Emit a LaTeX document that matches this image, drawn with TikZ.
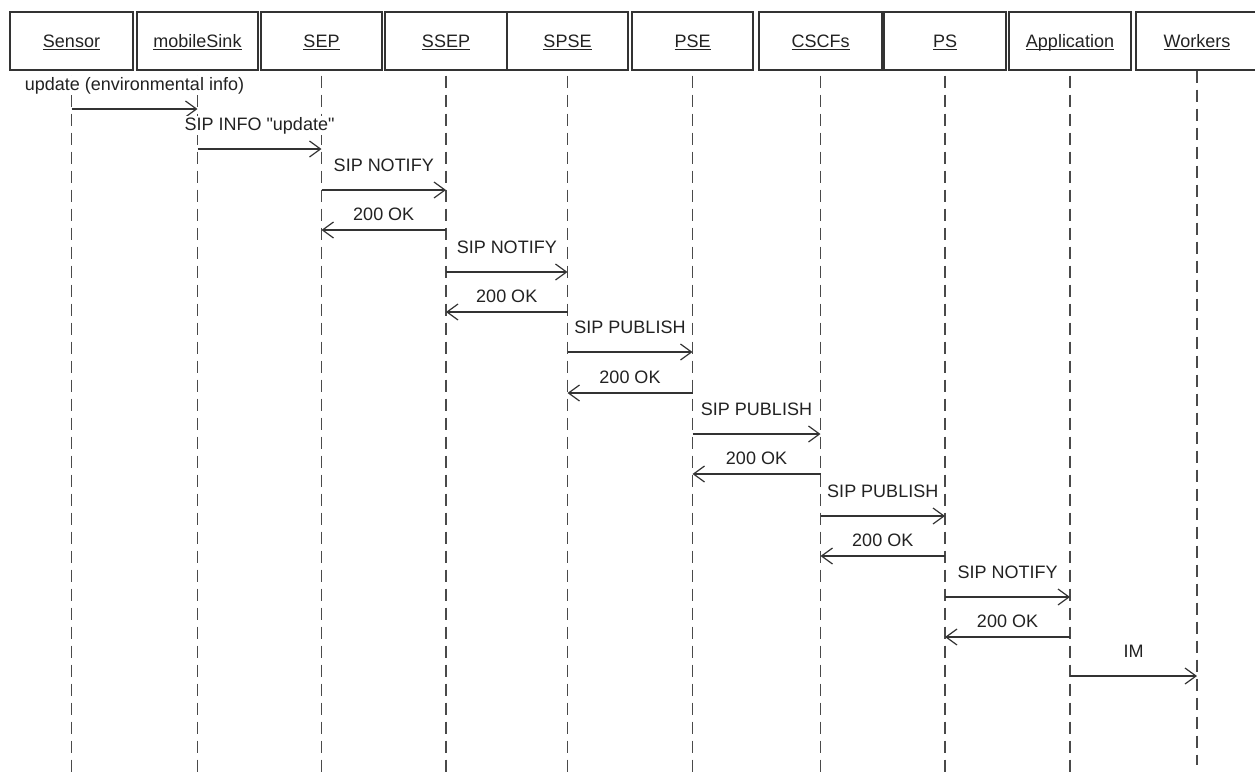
\documentclass[tikz,border=0pt]{standalone}
\usepackage{fontspec}
\setmainfont{Liberation Sans}[Ligatures=TeXOff]
\usetikzlibrary{arrows.meta}
\definecolor{ln}{HTML}{333333}
\definecolor{ll}{HTML}{4A4A4A}
\definecolor{tx}{HTML}{222222}
\newsavebox\ulbox
\newcommand\uln[1]{\sbox\ulbox{#1}\rlap{\rule[-2.8pt]{\wd\ulbox}{1.1pt}}\usebox\ulbox}
\begin{document}
\begin{tikzpicture}[x=1pt,y=-1pt,
  font=\fontsize{18}{21}\selectfont, text=tx,
  actor/.style={draw=ln, line width=1.3pt, minimum height=58pt, inner sep=0pt,
                text height=16pt, text depth=3pt},
  lifeline/.style={draw=ll, line width=1.5pt, dash pattern=on 12.5pt off 6.5pt},
  msg/.style={draw=ln, line width=1.2pt,
              -{Straight Barb[length=11pt,width=16pt,line width=1.2pt]}},
  req/.style={midway, anchor=base, yshift=18.5pt, fill=white, inner sep=1pt},
  resp/.style={midway, anchor=base, yshift=10pt, fill=white, inner sep=1pt}]
\useasboundingbox (0,0) rectangle (1255,777);
% actors
\node[actor, minimum width=123pt] (sensor) at (71.5,41) {\uln{Sensor}};
\node[actor, minimum width=121pt] (sink) at (197.5,41) {\uln{mobileSink}};
\node[actor, minimum width=121pt] (sep) at (321.5,41) {\uln{SEP}};
\node[actor, minimum width=122pt] (ssep) at (446,41) {\uln{SSEP}};
\node[actor, minimum width=121pt] (spse) at (567.5,41) {\uln{SPSE}};
\node[actor, minimum width=121pt] (pse) at (692.5,41) {\uln{PSE}};
\node[actor, minimum width=123pt] (cscf) at (820.5,41) {\uln{CSCFs}};
\node[actor, minimum width=122pt] (ps) at (945,41) {\uln{PS}};
\node[actor, minimum width=122pt] (app) at (1070,41) {\uln{Application}};
\node[actor, minimum width=122pt] (work) at (1197,41) {\uln{Workers}};
% lifelines
\foreach \n in {sensor,sink,sep,ssep,spse,pse,cscf,ps,app}{
  \draw[lifeline] ([yshift=-5pt]\n.south) -- (\n.south |- 0,777);
}
\draw[lifeline] (work.south) -- (work.south |- 0,765);
% messages
\draw[msg] (sensor |- 0,109) -- node[req]{update (environmental info)} (sink |- 0,109);
\draw[msg] (sink |- 0,149) -- node[req]{SIP INFO "update"} (sep |- 0,149);
\draw[msg] (sep |- 0,190) -- node[req]{SIP NOTIFY} (ssep |- 0,190);
\draw[msg] (ssep |- 0,230) -- node[resp]{200 OK} (sep |- 0,230);
\draw[msg] (ssep |- 0,272) -- node[req]{SIP NOTIFY} (spse |- 0,272);
\draw[msg] (spse |- 0,312) -- node[resp]{200 OK} (ssep |- 0,312);
\draw[msg] (spse |- 0,352) -- node[req]{SIP PUBLISH} (pse |- 0,352);
\draw[msg] (pse |- 0,393) -- node[resp]{200 OK} (spse |- 0,393);
\draw[msg] (pse |- 0,434) -- node[req]{SIP PUBLISH} (cscf |- 0,434);
\draw[msg] (cscf |- 0,474) -- node[resp]{200 OK} (pse |- 0,474);
\draw[msg] (cscf |- 0,516) -- node[req]{SIP PUBLISH} (ps |- 0,516);
\draw[msg] (ps |- 0,556) -- node[resp]{200 OK} (cscf |- 0,556);
\draw[msg] (ps |- 0,597) -- node[req]{SIP NOTIFY} (app |- 0,597);
\draw[msg] (app |- 0,637) -- node[resp]{200 OK} (ps |- 0,637);
\draw[msg] (app |- 0,676) -- node[req]{IM} (work |- 0,676);
\end{tikzpicture}
\end{document}
